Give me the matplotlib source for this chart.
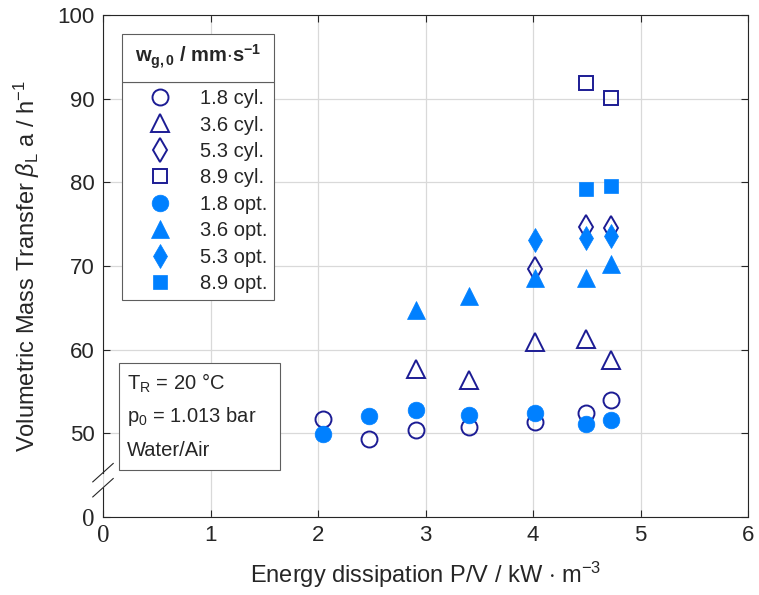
import numpy as np
import matplotlib
matplotlib.use("Agg")
import matplotlib.pyplot as plt
from matplotlib.patches import Rectangle

plt.rcParams['font.family'] = ['Liberation Sans', 'DejaVu Sans']
plt.rcParams['mathtext.fontset'] = 'custom'
plt.rcParams['mathtext.rm'] = 'Liberation Sans'
plt.rcParams['mathtext.it'] = 'Liberation Sans:italic'
plt.rcParams['mathtext.bf'] = 'Liberation Sans:bold'

# data
energy_18 = [2.05, 2.47, 2.91, 3.40, 4.02, 4.49, 4.73]
cyl_18 = [51.7, 49.3, 50.4, 50.7, 51.3, 52.4, 54.0]
opt_18 = [49.9, 52.1, 52.8, 52.2, 52.4, 51.1, 51.6]
energy_36 = [2.91, 3.40, 4.02, 4.49, 4.73]
cyl_36 = [57.7, 56.4, 60.9, 61.3, 58.8]
opt_36 = [64.7, 66.4, 68.6, 68.6, 70.2]
energy_53 = [4.02, 4.49, 4.73]
cyl_53 = [69.6, 74.7, 74.5]
opt_53 = [73.1, 73.3, 73.6]
energy_89 = [4.49, 4.73]
cyl_89 = [91.9, 90.1]
opt_89 = [79.2, 79.6]

x_ticks = [0, 1, 2, 3, 4, 5, 6]
y_ticks = [40, 50, 60, 70, 80, 90, 100]
y_ticklabels = ['0', '50', '60', '70', '80', '90', '100']

navy = '#1c1c94'
light = '#0080ff'
axcol = '#262626'
boxcol = '#5e5e5e'

fig = plt.figure(figsize=(7.59, 5.95), dpi=100)
ax = fig.add_axes([103 / 759, 1 - 517 / 595, 645 / 759, 502 / 595])

series = [
    (energy_18, cyl_18, 'o', 11.5, '1.8 cyl.', False),
    (energy_36, cyl_36, '^', 13, '3.6 cyl.', False),
    (energy_53, cyl_53, 'd', 12, '5.3 cyl.', False),
    (energy_89, cyl_89, 's', 10, '8.9 cyl.', False),
    (energy_18, opt_18, 'o', 12, '1.8 opt.', True),
    (energy_36, opt_36, '^', 13, '3.6 opt.', True),
    (energy_53, opt_53, 'd', 12, '5.3 opt.', True),
    (energy_89, opt_89, 's', 10, '8.9 opt.', True),
]
for xs, ys, m, ms, lab, filled in series:
    if filled:
        ax.plot(xs, ys, ls='none', marker=m, ms=ms, mfc=light, mec=light,
                mew=0.5, label=lab, zorder=4)
    else:
        ax.plot(xs, ys, ls='none', marker=m, ms=ms, mfc='none', mec=navy,
                mew=1.4, label=lab, zorder=3)

ax.set_xlim(0, 6)
ax.set_ylim(40, 100)
ax.set_xticks(x_ticks)
ax.set_yticks(y_ticks)
ax.set_yticklabels(y_ticklabels)
ax.tick_params(direction='in', top=True, right=True, length=5, width=0.8,
               colors=axcol, labelsize=16, pad=6)
ax.get_yticklabels()[0].set_fontfamily('Liberation Serif')
ax.get_yticklabels()[0].set_fontsize(18)
ax.get_xticklabels()[0].set_fontfamily('Liberation Serif')
ax.get_xticklabels()[0].set_fontsize(18)
ax.grid(True, color='#d9d9d9', lw=0.9)
ax.set_axisbelow(True)
for s in ax.spines.values():
    s.set_color(axcol)
    s.set_linewidth(0.8)

# broken left spine
ax.spines['left'].set_visible(False)
ax.plot([0, 0], [40, 43.5], color=axcol, lw=0.8, clip_on=False, zorder=5)
ax.plot([0, 0], [45.3, 100], color=axcol, lw=0.8, clip_on=False, zorder=5)
dx = 0.095
for yb in (45.3, 43.5):
    ax.plot([-dx, dx], [yb - 1.1, yb + 1.1], color=axcol, lw=0.8,
            clip_on=False, zorder=5)

ax.set_xlabel(r'Energy dissipation P/V / kW $\cdot$ m$^{-3}$', fontsize=17,
              color=axcol, labelpad=9)
ax.set_ylabel(r'Volumetric Mass Transfer $\beta_\mathregular{L}$ a / h$^\mathregular{-1}$',
              fontsize=17, color=axcol, labelpad=11)

leg = ax.legend(loc='upper left', bbox_to_anchor=(0.0295, 0.8665),
                borderaxespad=0, fontsize=14.5, frameon=True, fancybox=False,
                edgecolor=boxcol, framealpha=1, labelspacing=0.37,
                handletextpad=0.4, borderpad=0.35, handlelength=3.1)
leg.get_frame().set_linewidth(0.8)
for t in leg.get_texts():
    t.set_color(axcol)

# legend header box
fig.canvas.draw()
r = fig.canvas.get_renderer()
fb = leg.get_frame().get_window_extent(r)
hx0, hy0 = fig.transFigure.inverted().transform((fb.x0, fb.y1))
hx1, hy1 = fig.transFigure.inverted().transform((fb.x1, 595 - 34))
fig.add_artist(Rectangle((hx0, hy0), hx1 - hx0, hy1 - hy0,
                         transform=fig.transFigure, fc='white', ec=boxcol,
                         lw=0.8))
fig.text((hx0 + hx1) / 2, (hy0 + hy1) / 2 + 0.002,
         r'w$_\mathbf{g,0}$ / mm$\cdot$s$^\mathbf{-1}$', fontsize=14.5,
         weight='bold', color=axcol, ha='center', va='center')

# info box
ax.add_patch(Rectangle((0.025, 0.094), 0.249, 0.212, transform=ax.transAxes,
                       fill=True, fc='white', ec=boxcol, lw=0.8, zorder=6))
info = [r'T$_\mathregular{R}$ = 20 °C', r'p$_\mathregular{0}$ = 1.013 bar', 'Water/Air']
for i, line in enumerate(info):
    ax.text(0.037, 0.267 - i * 0.067, line, transform=ax.transAxes,
            fontsize=14.5, color=axcol, va='center', ha='left', zorder=7)

fig.savefig('out.png', dpi=100)
